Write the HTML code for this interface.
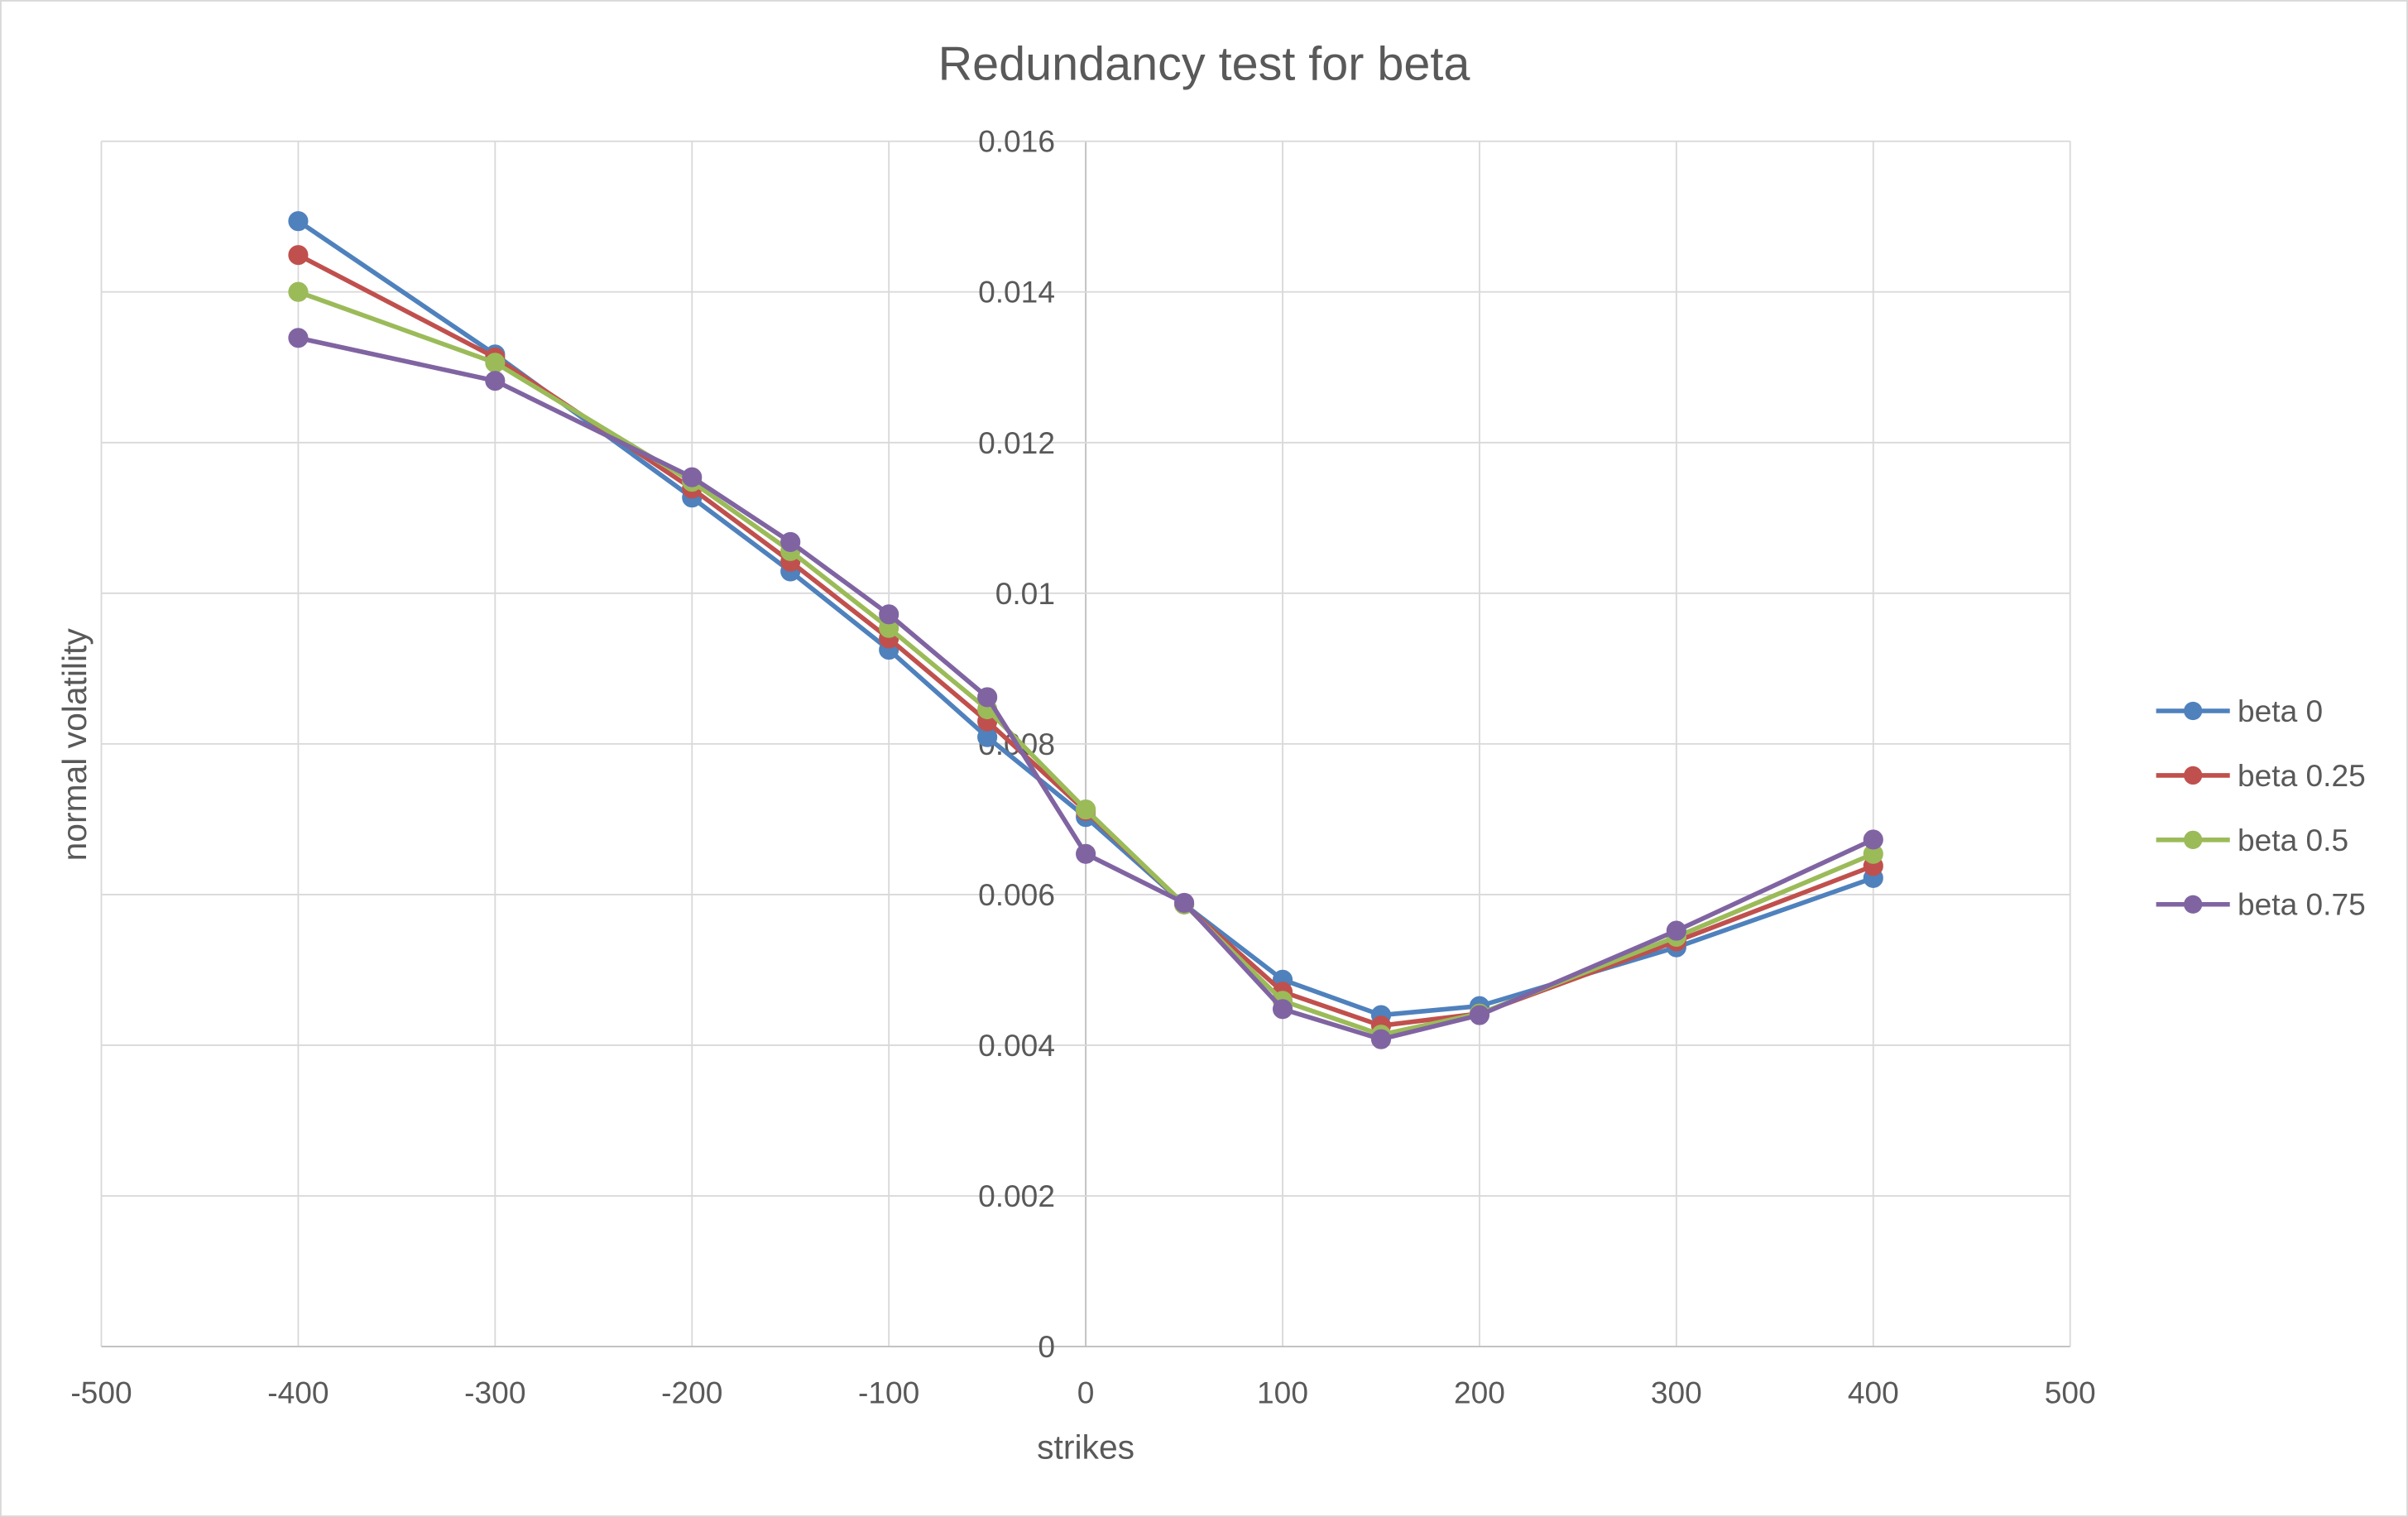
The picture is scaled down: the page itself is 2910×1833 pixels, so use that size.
<!DOCTYPE html>
<html><head><meta charset="utf-8"><style>
html,body{margin:0;padding:0;background:#fff;}
svg{display:block;font-family:"Liberation Sans",sans-serif;}
</style></head><body>
<svg id="chart" width="2910" height="1833" viewBox="0 0 1568 988" preserveAspectRatio="none" xmlns="http://www.w3.org/2000/svg">
<rect x="0.5" y="0.5" width="1567" height="987" fill="#fff" stroke="#d9d9d9"/>
<text x="784" y="52" text-anchor="middle" font-size="31" fill="#595959">Redundancy test for beta</text>
<g id="grid"></g>
<g id="axes"></g>
<g id="series"></g>
<text x="707" y="950" text-anchor="middle" font-size="22" fill="#595959">strikes</text>
<text transform="translate(56,485) rotate(-90)" text-anchor="middle" font-size="22" fill="#595959">normal volatility</text>
<g id="legend"></g>
</svg>
<script>
const strikes=[-400,-300,-200,-150,-100,-50,0,50,100,150,200,300,400];
const beta0=[0.01494,0.01317,0.01127,0.01029,0.00925,0.00809,0.00703,0.00587,0.00487,0.0044,0.00452,0.0053,0.00622];
const beta025=[0.01449,0.01313,0.01139,0.01042,0.0094,0.0083,0.00711,0.00587,0.00471,0.00426,0.00442,0.00538,0.00638];
const beta05=[0.014,0.01306,0.01148,0.01056,0.00954,0.00846,0.00713,0.00587,0.00459,0.00414,0.00442,0.00544,0.00654];
const beta075=[0.01339,0.01282,0.01154,0.01068,0.00972,0.00862,0.00654,0.00589,0.00448,0.00408,0.0044,0.00552,0.00673];
const seriesNames=["beta 0","beta 0.25","beta 0.5","beta 0.75"];
const xTicks=[-500,-400,-300,-200,-100,0,100,200,300,400,500];
const yTicks=[0,0.002,0.004,0.006,0.008,0.01,0.012,0.014,0.016];
const yLabels=["0","0.002","0.004","0.006","0.008","0.01","0.012","0.014","0.016"];
const colors=["#4F81BD","#C0504D","#9BBB59","#8064A2"];
const allSeries=[beta0,beta025,beta05,beta075];
const NS="http://www.w3.org/2000/svg";
const X0=66,X1=1348,Y0=877,Y1=92;
const sx=v=>X0+(v+500)/1000*(X1-X0);
const sy=v=>Y0-v/0.016*(Y0-Y1);
function mk(tag,attrs,parent){const e=document.createElementNS(NS,tag);for(const k in attrs)e.setAttribute(k,attrs[k]);parent.appendChild(e);return e;}
const grid=document.getElementById('grid'),axes=document.getElementById('axes'),sg=document.getElementById('series'),lg=document.getElementById('legend');
xTicks.forEach(t=>{const l=mk('line',{x1:sx(t),x2:sx(t),y1:Y1,y2:Y0,stroke:t===0?'#bfbfbf':'#d9d9d9','stroke-width':1},grid);


const tx=mk('text',{x:sx(t),y:Y0+37,'text-anchor':'middle','font-size':20,fill:'#595959'},axes);tx.textContent=t;

});
yTicks.forEach((t,i)=>{const l=mk('line',{x1:X0,x2:X1,y1:sy(t),y2:sy(t),stroke:t===0?'#bfbfbf':'#d9d9d9','stroke-width':1},grid);


const tx=mk('text',{x:sx(0)-20,y:sy(t)+7,'text-anchor':'end','font-size':20,fill:'#595959'},axes);tx.textContent=yLabels[i];

});
allSeries.forEach((s,si)=>{const pts=s.map((v,i)=>sx(strikes[i])+','+sy(v)).join(' ');
const pl=mk('polyline',{points:pts,fill:'none',stroke:colors[si],'stroke-width':3,'stroke-linejoin':'round'},sg);


s.forEach((v,i)=>{const c=mk('circle',{cx:sx(strikes[i]),cy:sy(v),r:6,fill:colors[si],stroke:colors[si]},sg);

});
const ly=463+si*42;
const ll=mk('line',{x1:1404,x2:1452,y1:ly,y2:ly,stroke:colors[si],'stroke-width':3},lg);


const lc=mk('circle',{cx:1428,cy:ly,r:6,fill:colors[si]},lg);


const lt=mk('text',{x:1457,y:ly+7,'font-size':20,fill:'#595959'},lg);lt.textContent=seriesNames[si];

});
</script>
</body></html>
